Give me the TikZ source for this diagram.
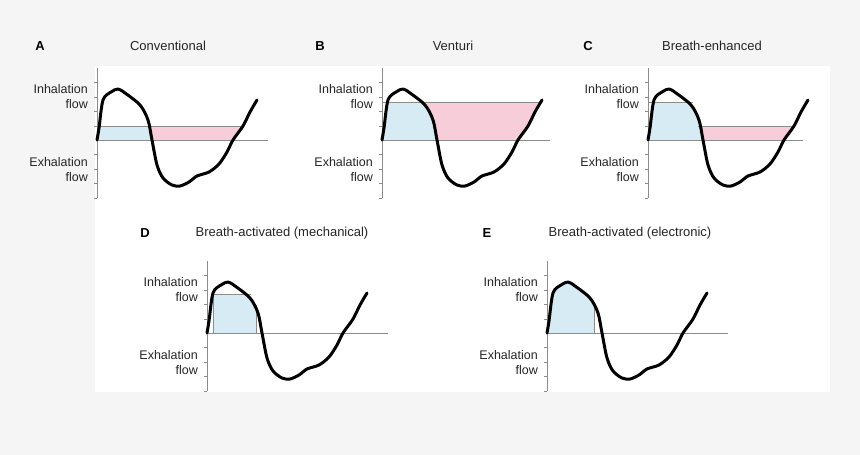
\documentclass[tikz,border=0pt]{standalone}
\usepackage{fontspec}
\setmainfont{Liberation Sans}
\definecolor{lb}{HTML}{D6EBF3}
\definecolor{lp}{HTML}{F6CDD8}
\begin{document}
\begin{tikzpicture}[x=1pt,y=-1pt,
  lbl/.style={font=\fontsize{12.5}{15}\selectfont,text=black!85,align=right,anchor=east,inner sep=0pt},
  ttl/.style={font=\fontsize{13}{15}\selectfont,text=black!85,inner sep=0pt},
  let/.style={font=\fontsize{13}{15}\selectfont\bfseries,inner sep=0pt},
  ax/.style={draw=black!45,line width=0.7pt},
  curve/.style={draw=black,line width=3pt,line join=round,line cap=round},
  bl/.style={fill=lb},
  pk/.style={fill=lp}]
\useasboundingbox (0,0) rectangle (860,455);
\fill[black!4] (0,0) rectangle (860,455);
\fill[white] (95,66) rectangle (830,392);
\def\lobe{(0,0)(2,-12)(6,-40)(14,-48)(21,-51)(28,-47)(43,-35)(51,-20)(55,0)}
\def\rest{(21,-51)(28,-47)(43,-35)(51,-20)(55,0)(60,25)(66,38)(75,45)(83,46)(92,42)(100,36)(112,32)(122,24)(130,12)(136,0)(146,-14)(153,-28)(160,-40)}
\def\whole{(0,0)(2,-12)(6,-40)(14,-48)(21,-51)(28,-47)(43,-35)(51,-20)(55,0)(60,25)(66,38)(75,45)(83,46)(92,42)(100,36)(112,32)(122,24)(130,12)(136,0)(146,-14)(153,-28)(160,-40)}
\newcommand\axes[2]{%
  \draw[ax] (0,-72) -- (0,58);
  \foreach \t in {-58,-43,-29,-14,14,29,43,58}{\draw[ax] (-3,\t) -- (0,\t);}
  \draw[ax] (0,0) -- (#1,0);
  \node[lbl] (#2i) at (-9,-43) {Inhalation\\flow};
  \node[lbl] (#2e) at (-9,30) {Exhalation\\flow};}
% Panel A
\begin{scope}[shift={(97,140)}]
  \begin{scope}\clip plot[smooth] coordinates {\lobe} -- cycle; \fill[bl] (0,-14) rectangle (60,0);\end{scope}
  \begin{scope}\clip plot[smooth] coordinates {\rest} -- (160,-80) -- (21,-80) -- cycle; \fill[pk] (30,-14) rectangle (170,0);\end{scope}
  \draw[ax] (0,-14) -- (146,-14);
  \axes{171}{a}
  \draw[curve] plot[smooth] coordinates {\whole};
\end{scope}
\node[let] (la) at (40,46) {A};
\node[ttl] (ta) at (168,46) {Conventional};
% Panel B
\begin{scope}[shift={(382,140)}]
  \begin{scope}\clip plot[smooth] coordinates {\lobe} -- cycle; \fill[bl] (0,-38) rectangle (60,0);\end{scope}
  \begin{scope}\clip plot[smooth] coordinates {\rest} -- (160,-80) -- (21,-80) -- cycle; \fill[pk] (30,-38) rectangle (170,0);\end{scope}
  \draw[ax] (0,-38) -- (159,-38);
  \axes{168}{b}
  \draw[curve] plot[smooth] coordinates {\whole};
\end{scope}
\node[let] (lb) at (320,46) {B};
\node[ttl] (tb) at (453,46) {Venturi};
% Panel C
\begin{scope}[shift={(648,140)}]
  \begin{scope}\clip plot[smooth] coordinates {\lobe} -- cycle; \fill[bl] (0,-38) rectangle (60,0);\end{scope}
  \begin{scope}\clip plot[smooth] coordinates {\rest} -- (160,-80) -- (21,-80) -- cycle; \fill[pk] (30,-14) rectangle (170,0);\end{scope}
  \draw[ax] (0,-38) -- (45,-38);
  \draw[ax] (50,-14) -- (146,-14);
  \axes{155}{c}
  \draw[curve] plot[smooth] coordinates {\whole};
\end{scope}
\node[let] (lc) at (588,46) {C};
\node[ttl] (tc) at (712,46) {Breath-enhanced};
% Panel D
\begin{scope}[shift={(207,333)}]
  \begin{scope}\clip plot[smooth] coordinates {\lobe} -- cycle; \fill[bl] (6,-39) rectangle (49,0);\end{scope}
  \draw[ax] (6,-39) -- (44,-39);
  \draw[ax] (6,-39) -- (6,0);
  \draw[ax] (49,-28) -- (49,0);
  \axes{181}{d}
  \draw[curve] plot[smooth] coordinates {\whole};
\end{scope}
\node[let] (ld) at (145,233) {D};
\node[ttl] (td) at (282,233) {Breath-activated (mechanical)};
% Panel E
\begin{scope}[shift={(547,333)}]
  \begin{scope}\clip plot[smooth] coordinates {\lobe} -- cycle; \fill[bl] (0,-60) rectangle (47,0);\end{scope}
  \draw[ax] (47,-30) -- (47,0);
  \axes{181}{e}
  \draw[curve] plot[smooth] coordinates {\whole};
\end{scope}
\node[let] (le) at (487,233) {E};
\node[ttl] (te) at (630,233) {Breath-activated (electronic)};
\end{tikzpicture}
\end{document}
